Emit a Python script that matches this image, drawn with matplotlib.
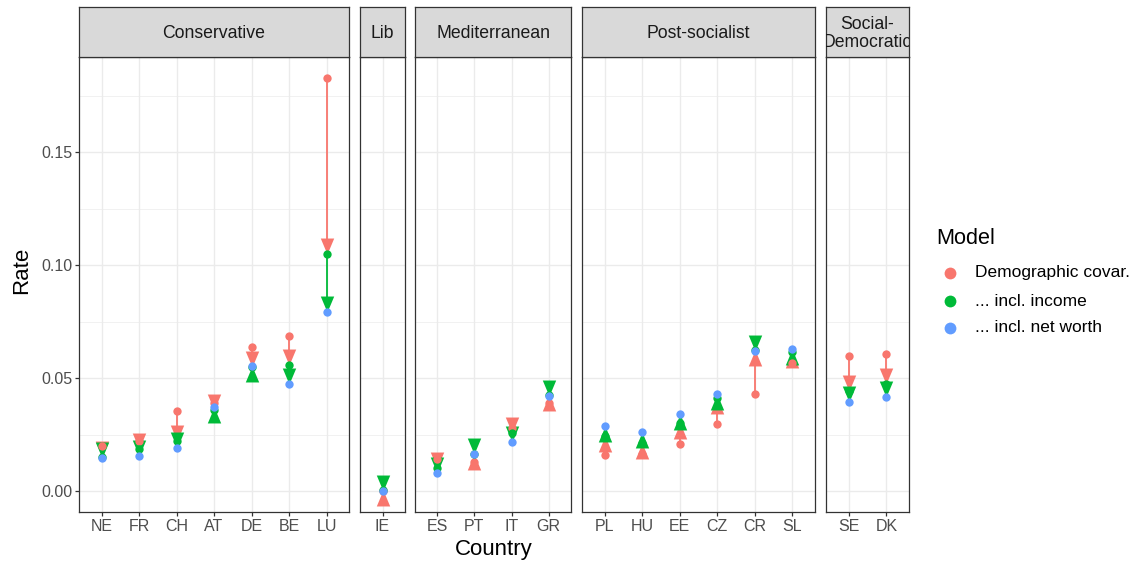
import matplotlib

matplotlib.use("Agg")
import matplotlib.pyplot as plt
from matplotlib.lines import Line2D
import numpy as np

plt.rcParams["font.family"] = ["Liberation Sans", "DejaVu Sans"]

W, H = 1138, 566

# ggplot hue palette + theme_bw greys
RED = "#F8766D"
GREEN = "#00BA38"
BLUE = "#619CFF"
BORDER = "#333333"
STRIP = "#D9D9D9"
GRID = "#EBEBEB"
TICKTXT = "#4D4D4D"

regimes = ["Conservative", "Lib", "Mediterranean", "Post-socialist", "Social-\nDemocratic"]
countries = [
    ["NE", "FR", "CH", "AT", "DE", "BE", "LU"],
    ["IE"],
    ["ES", "PT", "IT", "GR"],
    ["PL", "HU", "EE", "CZ", "CR", "SL"],
    ["SE", "DK"],
]
demographic = [
    [0.0199, 0.0220, 0.0353, 0.0390, 0.0636, 0.0687, 0.1830],
    [0.0000],
    [0.0140, 0.0130, 0.0279, 0.0390],
    [0.0159, 0.0163, 0.0208, 0.0296, 0.0429, 0.0569],
    [0.0597, 0.0606],
]
income = [
    [0.0152, 0.0186, 0.0221, 0.0358, 0.0550, 0.0556, 0.1050],
    [0.0004],
    [0.0102, 0.0165, 0.0257, 0.0425],
    [0.0243, 0.0215, 0.0300, 0.0412, 0.0626, 0.0617],
    [0.0442, 0.0472],
]
net_worth = [
    [0.0147, 0.0155, 0.0190, 0.0372, 0.0553, 0.0476, 0.0792],
    [-0.0001],
    [0.0078, 0.0162, 0.0218, 0.0421],
    [0.0288, 0.0260, 0.0341, 0.0428, 0.0619, 0.0631],
    [0.0395, 0.0415],
]
model_labels = ["Demographic covar.", "... incl. income", "... incl. net worth"]

# arrowhead markers with the tip at the data point
HEAD_UP = [(0, 0), (-0.42, -1), (0.42, -1), (0, 0)]
HEAD_DOWN = [(0, 0), (-0.42, 1), (0.42, 1), (0, 0)]
HEAD_MS = 23


def arrow(ax, x, y0, y1, color):
    ax.plot([x, x], [y0, y1], color=color, linewidth=1.3, solid_capstyle="butt", zorder=3)
    head = HEAD_UP if y1 > y0 else HEAD_DOWN
    ax.plot([x], [y1], marker=head, markersize=HEAD_MS, color=color,
            markeredgewidth=0, linestyle="none", zorder=3)


allv = np.concatenate([np.concatenate([np.asarray(v) for v in s])
                       for s in (demographic, income, net_worth)])
rng = allv.max() - allv.min()
ylim = (allv.min() - 0.05 * rng, allv.max() + 0.05 * rng)

panel_x = [(79, 349), (360, 405), (415, 571), (582, 815), (826, 909)]
p_top, p_bot = 57, 512
s_top = 7

fig = plt.figure(figsize=(W / 100, H / 100), dpi=100, facecolor="white")

for k, (x0, x1) in enumerate(panel_x):
    ax = fig.add_axes([x0 / W, (H - p_bot) / H, (x1 - x0) / W, (p_bot - p_top) / H])
    n = len(countries[k])
    xs = np.arange(n)
    for i in range(n):
        arrow(ax, xs[i], demographic[k][i], income[k][i], RED)
    for i in range(n):
        arrow(ax, xs[i], income[k][i], net_worth[k][i], GREEN)
    for vals, col in ((demographic, RED), (income, GREEN), (net_worth, BLUE)):
        ax.plot(xs, vals[k], "o", color=col, markersize=6, markeredgewidth=0, zorder=4)

    ax.set_xlim(-0.6, n - 0.4)
    ax.set_ylim(*ylim)
    ax.set_xticks(xs)
    ax.set_xticklabels(countries[k])
    ax.set_yticks([0.0, 0.05, 0.10, 0.15])
    ax.set_yticks([0.025, 0.075, 0.125, 0.175], minor=True)
    ax.grid(True, which="major", color=GRID, linewidth=1.0)
    ax.grid(True, which="minor", axis="y", color=GRID, linewidth=0.5)
    ax.set_axisbelow(True)
    for sp in ax.spines.values():
        sp.set_color(BORDER)
        sp.set_linewidth(0.9)
    ax.tick_params(which="major", colors=BORDER, labelcolor=TICKTXT, labelsize=11.5,
                   length=3, width=0.9, pad=2)
    ax.tick_params(which="minor", length=0)
    if k == 0:
        ax.set_yticklabels(["0.00", "0.05", "0.10", "0.15"])
    else:
        ax.tick_params(axis="y", which="both", length=0, labelleft=False)

    sax = fig.add_axes([x0 / W, (H - p_top) / H, (x1 - x0) / W, (p_top - s_top) / H])
    sax.set_facecolor(STRIP)
    sax.set_xticks([])
    sax.set_yticks([])
    for sp in sax.spines.values():
        sp.set_color(BORDER)
        sp.set_linewidth(0.9)
    sax.text(0.5, 0.47, regimes[k], ha="center", va="center", fontsize=12.7,
             color="#1A1A1A", transform=sax.transAxes, clip_on=True, linespacing=1.05)

fig.text(22 / W, 1 - 270 / H, "Rate", rotation=90, ha="center", va="center", fontsize=16)
fig.text(494 / W, 1 - 549 / H, "Country", ha="center", va="center", fontsize=16)

# legend
fig.text(936 / W, 1 - 238 / H, "Model", ha="left", va="center", fontsize=15.6)
for col, lab, py in zip((RED, GREEN, BLUE), model_labels, (273, 301, 328)):
    fig.add_artist(Line2D([950 / W], [1 - py / H], marker="o", markersize=8.5,
                          color=col, markeredgewidth=0, linestyle="none",
                          transform=fig.transFigure))
    fig.text(975 / W, 1 - py / H, lab, ha="left", va="center", fontsize=12.5)

fig.savefig("out.png", dpi=100, facecolor="white")
